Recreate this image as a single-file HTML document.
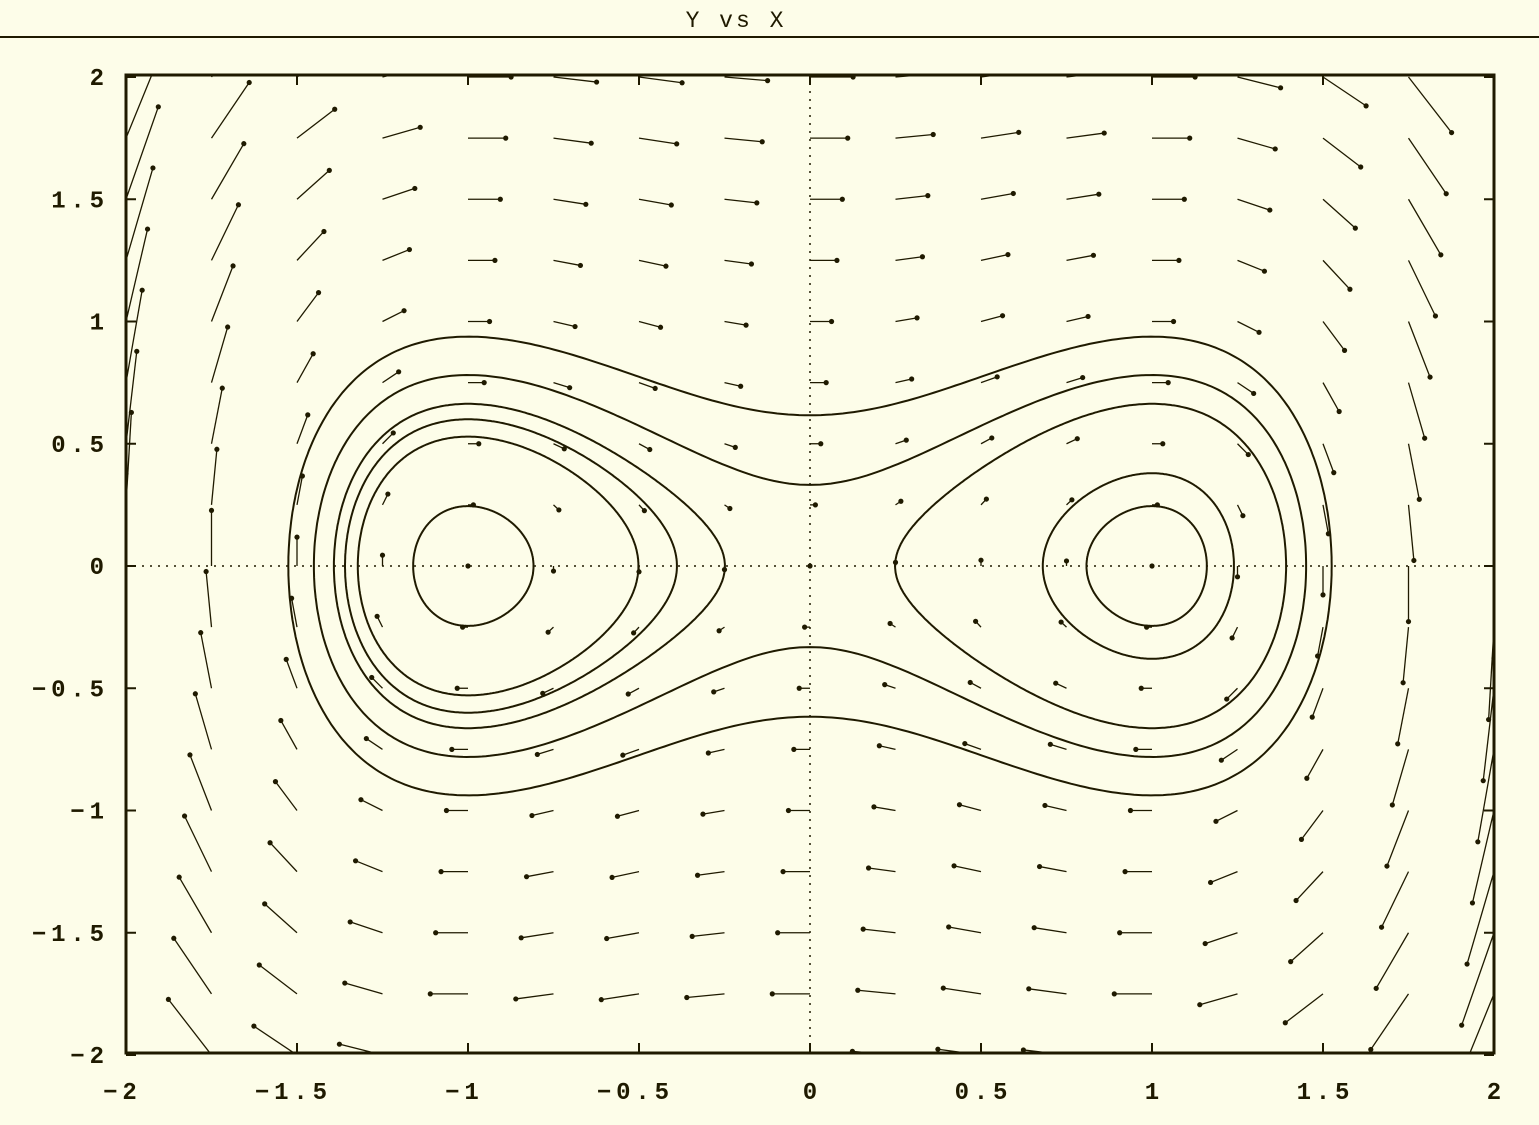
<!DOCTYPE html>
<html><head><meta charset="utf-8"><style>
html,body{margin:0;padding:0;background:#fdfde9;}
svg{display:block}
text{font-family:"Liberation Mono",monospace;font-weight:bold;fill:#1f1a00;font-size:24px}
</style></head><body>
<svg id="chart" width="1539" height="1125" viewBox="0 0 1539 1125">
<rect width="1539" height="1125" fill="#fdfde9"/>
<text x="736" y="27" text-anchor="middle" style="font-weight:normal;letter-spacing:3px;font-size:23px">Y vs X</text>
<line x1="0" y1="37" x2="1539" y2="37" stroke="#1f1a00" stroke-width="2"/>
<defs><clipPath id="pc"><rect x="126" y="75" width="1368" height="978"/></clipPath></defs>
<g id="ticks"></g>
<g id="zero"></g>
<g id="field" clip-path="url(#pc)"></g>
<g id="traj" clip-path="url(#pc)"></g>
<rect x="126" y="75" width="1368" height="978" fill="none" stroke="#1f1a00" stroke-width="3"/>
</svg>
<script>
const xTicks=[-2,-1.5,-1,-0.5,0,0.5,1,1.5,2];
const yTicks=[-2,-1.5,-1,-0.5,0,0.5,1,1.5,2];
const gridX=[-2,-1.75,-1.5,-1.25,-1,-0.75,-0.5,-0.25,0,0.25,0.5,0.75,1,1.25,1.5,1.75,2];
const gridY=[-2,-1.75,-1.5,-1.25,-1,-0.75,-0.5,-0.25,0,0.25,0.5,0.75,1,1.25,1.5,1.75,2];
const leftLevels=[-0.22,-0.11,-0.07,-0.03];
const rightLevels=[-0.22,-0.178,-0.03];
const outerLevels=[0.055,0.19];
const arrowScale=0.063;
const NS="http://www.w3.org/2000/svg";
const X=v=>810+v*342, Y=v=>566-v*244.5;
const ink="#1f1a00";
function mk(t,a,p){const e=document.createElementNS(NS,t);for(const k in a)e.setAttribute(k,a[k]);p.appendChild(e);return e;}
const tk=document.getElementById('ticks');
xTicks.forEach(v=>{
 const t=mk('text',{x:X(v)+(v<0?-6:0),y:1099,'text-anchor':'middle'},tk);t.textContent=String(v).replace('-','\u2212').split('').join('\u2009');
 
 
 mk('line',{x1:X(v),y1:1053,x2:X(v),y2:1043,stroke:ink,'stroke-width':2},tk);
 mk('line',{x1:X(v),y1:75,x2:X(v),y2:85,stroke:ink,'stroke-width':2},tk);
});
yTicks.forEach(v=>{
 const t=mk('text',{x:104,y:Y(v)+8,'text-anchor':'end'},tk);t.textContent=String(v).replace('-','\u2212').split('').join('\u2009');
 
 
 mk('line',{x1:126,y1:Y(v),x2:136,y2:Y(v),stroke:ink,'stroke-width':2},tk);
 mk('line',{x1:1494,y1:Y(v),x2:1484,y2:Y(v),stroke:ink,'stroke-width':2},tk);
});
const z=document.getElementById('zero');
mk('line',{x1:126,y1:Y(0),x2:1494,y2:Y(0),stroke:ink,'stroke-width':1.5,'stroke-dasharray':'2 6'},z);
mk('line',{x1:X(0),y1:75,x2:X(0),y2:1053,stroke:ink,'stroke-width':1.5,'stroke-dasharray':'2 6'},z);
const f=document.getElementById('field');
gridX.forEach(x=>gridY.forEach(y=>{
 const u=y, w=x-x*x*x;
 const x2=X(x+u*arrowScale), y2=Y(y+w*arrowScale);
 const l=mk('line',{x1:X(x),y1:Y(y),x2:x2,y2:y2,stroke:ink,'stroke-width':1.3},f);
 
 
 mk('circle',{cx:x2,cy:y2,r:2.6,fill:ink},f);
}));
const tr=document.getElementById('traj');
function curve(H,a,b){
 const N=300,top=[],bot=[];
 for(let i=0;i<=N;i++){const t=Math.PI*i/N;const x=(a+b)/2-(b-a)/2*Math.cos(t);
  const q=2*H+x*x-x*x*x*x/2;const y=Math.sqrt(Math.max(0,q));top.push([X(x),Y(y)]);bot.push([X(x),Y(-y)]);}
 const pts=top.concat(bot.reverse());
 const p=mk('path',{d:'M'+pts.map(p=>p[0].toFixed(1)+','+p[1].toFixed(1)).join('L')+'Z',fill:'none',stroke:ink,'stroke-width':2},tr);
 
 
}
function well(H,s){const r=Math.sqrt(1+4*H);const a=Math.sqrt(1-r),b=Math.sqrt(1+r);s<0?curve(H,-b,-a):curve(H,a,b);}
leftLevels.forEach(H=>well(H,-1));
rightLevels.forEach(H=>well(H,1));
outerLevels.forEach(H=>{const b=Math.sqrt(1+Math.sqrt(1+4*H));curve(H,-b,b);});
</script>
</body></html>
